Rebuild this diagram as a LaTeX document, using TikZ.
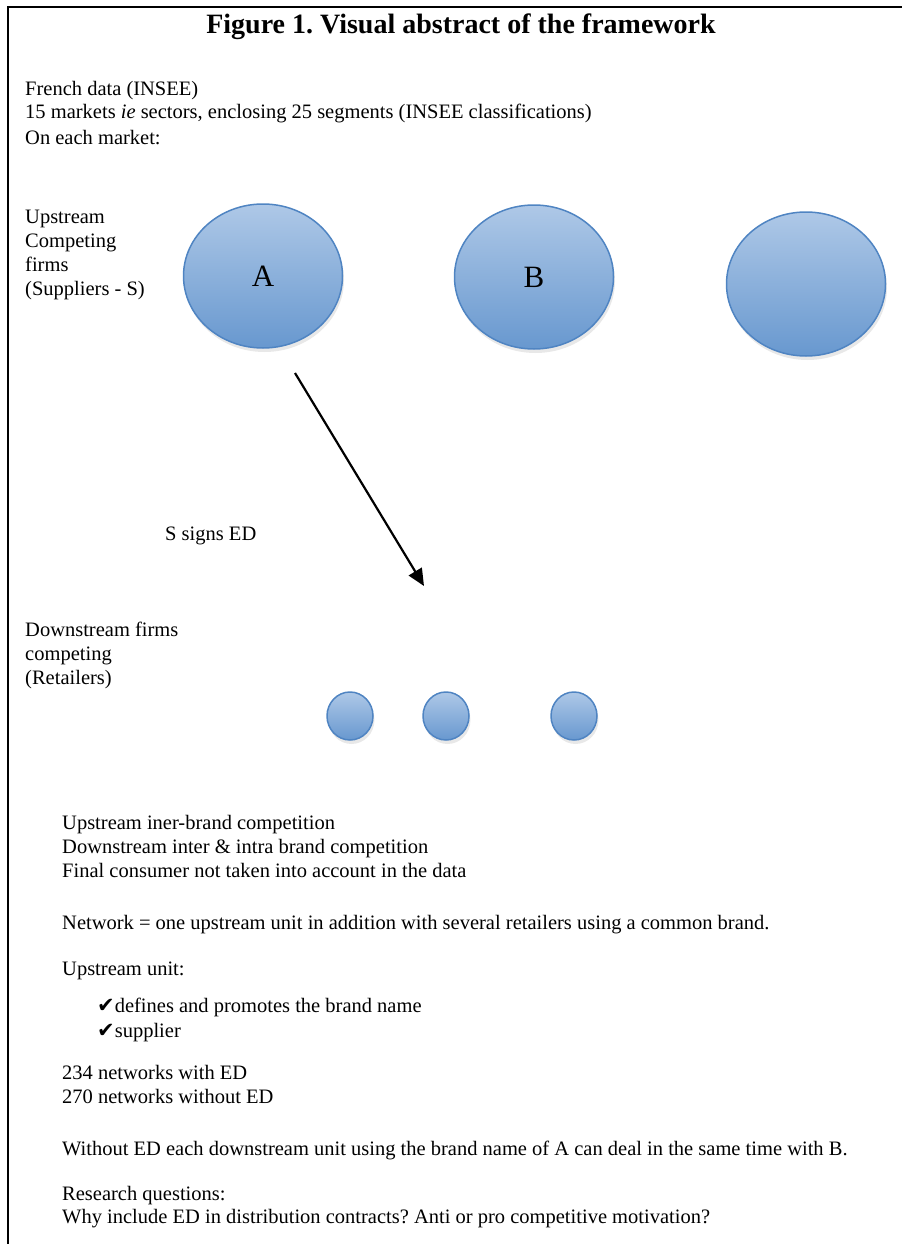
\documentclass[tikz,border=0pt]{standalone}
\usepackage{fontspec}
\setmainfont{Liberation Serif}
\newfontfamily\symfont{DejaVu Sans}
\usetikzlibrary{shapes.geometric,arrows.meta,shadows}
\definecolor{ctop}{HTML}{AEC8E7}
\definecolor{cbot}{HTML}{6898CF}
\definecolor{cedge}{HTML}{4F84C2}
\frenchspacing
\newcommand{\tickmark}{{\symfont\fontsize{21}{21}\selectfont ✔}}
\begin{document}
\begin{tikzpicture}[x=1pt,y=-1pt,
  txt/.style={anchor=base west,inner sep=0pt,font=\fontsize{20.5}{20.5}\selectfont},
  firm/.style={ellipse,draw=cedge,line width=1.5pt,top color=ctop,bottom color=cbot,
    inner sep=0pt,drop shadow={opacity=0.18,shadow xshift=1.5pt,shadow yshift=-4pt},
    font=\fontsize{31}{31}\selectfont},
  retailer/.style={firm,minimum width=46pt,minimum height=48pt},
  upfirm/.style={firm,minimum width=159pt,minimum height=144pt},
  link/.style={line width=2.2pt,-{Triangle[length=17pt,width=15pt]}},
  frame/.style={line width=2.5pt}]
\useasboundingbox (0,0) rectangle (902,1244);
\draw[frame] (8,1244) -- (8,7) -- (902,7);
\node[anchor=base,inner sep=0pt,font=\fontsize{28}{28}\selectfont\bfseries] (title) at (461,34) {Figure 1. Visual abstract of the framework};
\node[txt] (t1) at (25,96) {French data (INSEE)};
\node[txt] (t2) at (25,119) {15 markets \textit{ie} sectors, enclosing 25 segments (INSEE classifications)};
\node[txt] (t3) at (25,144) {On each market:};
\node[txt] (u1) at (25,223) {Upstream};
\node[txt] (u2) at (25,247) {Competing};
\node[txt] (u3) at (25,271) {firms};
\node[txt] (u4) at (25,295) {(Suppliers - S)};
\node[upfirm] (A) at (263,276) {A};
\node[upfirm] (B) at (534,277) {B};
\node[upfirm] (C) at (806,284) {};
\coordinate (as) at (295,373);
\coordinate (ae) at (424,586);
\draw[link] (as) -- (ae);
\node[txt] (sed) at (165,540) {S signs ED};
\node[txt] (d1) at (25,636) {Downstream firms};
\node[txt] (d2) at (25,660) {competing};
\node[txt] (d3) at (25,684) {(Retailers)};
\node[retailer] (r1) at (350,716) {};
\node[retailer] (r2) at (446,716) {};
\node[retailer] (r3) at (574,716) {};
\node[txt] (c1) at (62,829) {Upstream iner-brand competition};
\node[txt] (c2) at (62,853) {Downstream inter \& intra brand competition};
\node[txt] (c3) at (62,877) {Final consumer not taken into account in the data};
\node[txt] (net) at (62,929) {Network = one upstream unit in addition with several retailers using a common brand.};
\node[txt] (uu) at (62,975) {Upstream unit:};
\node[txt] (k1) at (97,1012) {\tickmark defines and promotes the brand name};
\node[txt] (k2) at (97,1037) {\tickmark supplier};
\node[txt] (n1) at (62,1079) {234 networks with ED};
\node[txt] (n2) at (62,1103) {270 networks without ED};
\node[txt] (wo) at (62,1155) {Without ED each downstream unit using the brand name of A can deal in the same time with B.};
\node[txt] (rq) at (62,1200) {Research questions:};
\node[txt] (why) at (62,1223) {Why include ED in distribution contracts? Anti or pro competitive motivation?};
\end{tikzpicture}
\end{document}
